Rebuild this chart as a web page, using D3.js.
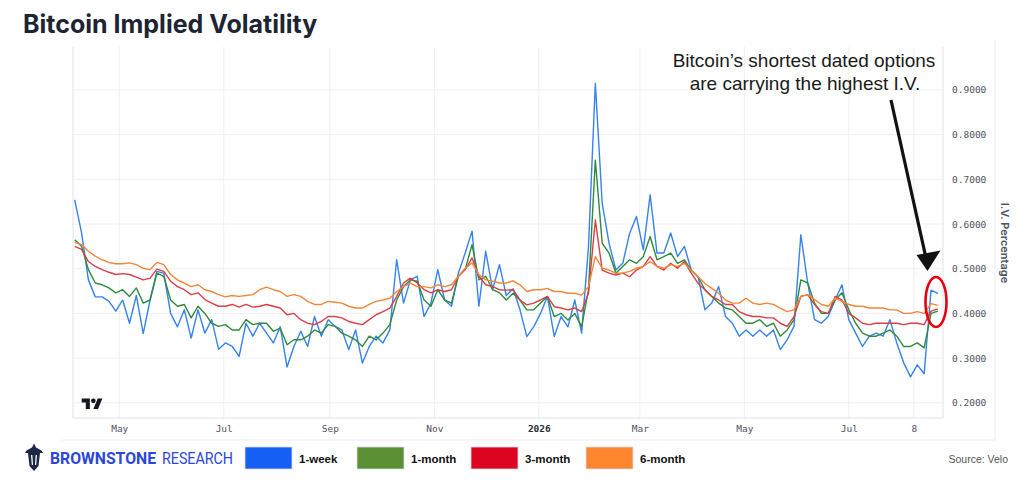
<!DOCTYPE html>
<html>
<head>
<meta charset="utf-8">
<script src="https://cdn.jsdelivr.net/npm/d3@7"></script>
<style>
  body { margin: 0; background: #fff; }
  .grid line { stroke: #edf0f5; stroke-width: 1; }
  .border { stroke: #e0e3eb; stroke-width: 1; }
  .axis text { font-family: "DejaVu Sans Mono", monospace; font-size: 9.5px; fill: #50535e; }
  .axis path { display: none; }
  .series { fill: none; stroke-width: 1.4; stroke-linejoin: round; }
</style>
</head>
<body>
<script>
// ---- data (one value every 4 days from 5 Apr 2025) ----
var seriesNames = ["1-week", "1-month", "3-month", "6-month"];

var week1 = [
  0.654, 0.580, 0.475, 0.437, 0.437, 0.427, 0.405, 0.430, 0.378, 0.440,
  0.355, 0.430, 0.494, 0.490, 0.400, 0.370, 0.408, 0.345, 0.408, 0.356,
  0.386, 0.320, 0.334, 0.326, 0.304, 0.378, 0.349, 0.378, 0.356, 0.334,
  0.370, 0.280, 0.326, 0.360, 0.326, 0.393, 0.349, 0.386, 0.371, 0.363,
  0.319, 0.363, 0.289, 0.326, 0.349, 0.334, 0.363, 0.520, 0.423, 0.475,
  0.483, 0.393, 0.423, 0.498, 0.430, 0.416, 0.490, 0.535, 0.584, 0.416,
  0.539, 0.453, 0.509, 0.440, 0.455, 0.408, 0.348, 0.370, 0.400, 0.438,
  0.348, 0.393, 0.370, 0.430, 0.356, 0.550, 0.915, 0.646, 0.557, 0.497,
  0.512, 0.579, 0.617, 0.542, 0.665, 0.535, 0.535, 0.580, 0.527, 0.550,
  0.497, 0.482, 0.408, 0.423, 0.460, 0.393, 0.378, 0.349, 0.363, 0.349,
  0.363, 0.349, 0.363, 0.319, 0.341, 0.371, 0.576, 0.468, 0.386, 0.378,
  0.393, 0.430, 0.464, 0.386, 0.356, 0.326, 0.349, 0.356, 0.349, 0.386,
  0.334, 0.290, 0.258, 0.285, 0.265, 0.452, 0.445
];

var month1 = [
  0.565, 0.550, 0.498, 0.468, 0.464, 0.457, 0.446, 0.453, 0.438, 0.457,
  0.423, 0.430, 0.490, 0.483, 0.430, 0.416, 0.420, 0.390, 0.416, 0.400,
  0.378, 0.371, 0.375, 0.363, 0.363, 0.386, 0.375, 0.378, 0.378, 0.360,
  0.367, 0.330, 0.341, 0.341, 0.349, 0.363, 0.356, 0.375, 0.371, 0.356,
  0.349, 0.341, 0.326, 0.349, 0.341, 0.356, 0.375, 0.430, 0.460, 0.475,
  0.472, 0.430, 0.416, 0.453, 0.430, 0.423, 0.483, 0.498, 0.554, 0.475,
  0.483, 0.453, 0.446, 0.430, 0.445, 0.430, 0.408, 0.408, 0.423, 0.438,
  0.393, 0.400, 0.385, 0.400, 0.370, 0.453, 0.743, 0.557, 0.535, 0.490,
  0.505, 0.520, 0.512, 0.527, 0.572, 0.520, 0.527, 0.535, 0.512, 0.520,
  0.497, 0.482, 0.453, 0.438, 0.423, 0.412, 0.408, 0.393, 0.378, 0.378,
  0.386, 0.371, 0.378, 0.349, 0.363, 0.386, 0.475, 0.468, 0.423, 0.400,
  0.400, 0.430, 0.446, 0.408, 0.378, 0.356, 0.349, 0.349, 0.356, 0.363,
  0.349, 0.326, 0.326, 0.334, 0.323, 0.400, 0.405
];

var month3 = [
  0.550, 0.543, 0.516, 0.505, 0.498, 0.492, 0.487, 0.489, 0.487, 0.481,
  0.475, 0.479, 0.499, 0.494, 0.472, 0.460, 0.453, 0.442, 0.446, 0.431,
  0.423, 0.416, 0.416, 0.420, 0.414, 0.420, 0.414, 0.416, 0.420, 0.416,
  0.412, 0.397, 0.400, 0.386, 0.378, 0.375, 0.382, 0.393, 0.393, 0.390,
  0.382, 0.378, 0.375, 0.386, 0.397, 0.404, 0.412, 0.438, 0.468, 0.479,
  0.468, 0.453, 0.446, 0.453, 0.449, 0.453, 0.483, 0.498, 0.524, 0.483,
  0.464, 0.460, 0.453, 0.452, 0.453, 0.430, 0.419, 0.423, 0.430, 0.438,
  0.415, 0.412, 0.408, 0.412, 0.404, 0.445, 0.609, 0.497, 0.490, 0.486,
  0.490, 0.482, 0.497, 0.505, 0.527, 0.505, 0.497, 0.512, 0.501, 0.516,
  0.490, 0.467, 0.453, 0.438, 0.430, 0.420, 0.420, 0.404, 0.397, 0.393,
  0.393, 0.390, 0.390, 0.378, 0.371, 0.393, 0.438, 0.442, 0.420, 0.404,
  0.400, 0.438, 0.430, 0.400, 0.390, 0.378, 0.375, 0.378, 0.378, 0.378,
  0.378, 0.375, 0.378, 0.378, 0.375, 0.405, 0.410
];

var month6 = [
  0.559, 0.554, 0.539, 0.528, 0.520, 0.514, 0.511, 0.511, 0.513, 0.509,
  0.501, 0.498, 0.514, 0.509, 0.487, 0.475, 0.468, 0.460, 0.464, 0.453,
  0.449, 0.442, 0.437, 0.440, 0.438, 0.440, 0.442, 0.453, 0.459, 0.453,
  0.449, 0.438, 0.442, 0.438, 0.427, 0.420, 0.420, 0.427, 0.425, 0.423,
  0.416, 0.412, 0.412, 0.420, 0.427, 0.430, 0.434, 0.449, 0.460, 0.468,
  0.460, 0.460, 0.457, 0.464, 0.460, 0.464, 0.483, 0.501, 0.513, 0.487,
  0.475, 0.472, 0.468, 0.468, 0.473, 0.464, 0.449, 0.453, 0.453, 0.456,
  0.449, 0.449, 0.445, 0.445, 0.441, 0.460, 0.527, 0.501, 0.497, 0.490,
  0.490, 0.494, 0.501, 0.505, 0.516, 0.505, 0.501, 0.509, 0.505, 0.512,
  0.497, 0.482, 0.467, 0.456, 0.445, 0.430, 0.423, 0.423, 0.434, 0.423,
  0.420, 0.423, 0.420, 0.412, 0.404, 0.408, 0.438, 0.442, 0.431, 0.420,
  0.416, 0.434, 0.427, 0.420, 0.416, 0.416, 0.412, 0.412, 0.412, 0.408,
  0.408, 0.400, 0.400, 0.404, 0.400, 0.422, 0.418
];

// x categories: every 4th day
var dates = d3.utcDay.range(new Date(Date.UTC(2025, 3, 5)), new Date(Date.UTC(2026, 7, 24)), 4);

// axis ticks
var tickDates = [
  new Date(Date.UTC(2025, 4, 1)), new Date(Date.UTC(2025, 6, 1)), new Date(Date.UTC(2025, 8, 1)),
  new Date(Date.UTC(2025, 10, 1)), new Date(Date.UTC(2026, 0, 1)), new Date(Date.UTC(2026, 2, 1)),
  new Date(Date.UTC(2026, 4, 1)), new Date(Date.UTC(2026, 6, 1)), new Date(Date.UTC(2026, 7, 8))
];
var tickLabels = ["May", "Jul", "Sep", "Nov", "2026", "Mar", "May", "Jul", "8"];
var yTicks = [0.2, 0.3, 0.4, 0.5, 0.6, 0.7, 0.8, 0.9];

// ---- layout ----
var width = 1024, height = 490;
var plot = {left: 73, right: 943, top: 47, bottom: 418};
var lineColors = ["#3583ee", "#2f8a3c", "#d83f48", "#f2873a"];
var swatchColors = ["#165ff5", "#5b9134", "#dd0422", "#ff862f"];

var svg = d3.select("body").append("svg")
    .attr("width", width)
    .attr("height", height);

var xScale = d3.scaleUtc()
    .domain([new Date(Date.UTC(2025, 3, 4)), new Date(Date.UTC(2026, 7, 25))])
    .range([plot.left, plot.right]);
var yScale = d3.scaleLinear()
    .domain([0.166, 0.996])
    .range([plot.bottom, plot.top]);

// outer frame
svg.append("line").attr("x1", 995).attr("x2", 995).attr("y1", 40).attr("y2", 440)
    .attr("stroke", "#eceef2");
svg.append("line").attr("x1", 62).attr("x2", 995).attr("y1", 440).attr("y2", 440)
    .attr("stroke", "#eceef2");

// grid
var grid = svg.append("g").attr("class", "grid");
grid.selectAll(".vgrid")
    .data(tickDates)
    .enter()
    .append("line")
    .attr("x1", function(d) { return xScale(d); })
    .attr("x2", function(d) { return xScale(d); })
    .attr("y1", plot.top)
    .attr("y2", plot.bottom);
grid.selectAll(".hgrid")
    .data(yTicks)
    .enter()
    .append("line")
    .attr("x1", plot.left)
    .attr("x2", plot.right)
    .attr("y1", function(d) { return yScale(d); })
    .attr("y2", function(d) { return yScale(d); });

// plot borders
svg.append("line").attr("class", "border")
    .attr("x1", plot.left).attr("x2", plot.left).attr("y1", plot.top).attr("y2", plot.bottom);
svg.append("line").attr("class", "border")
    .attr("x1", plot.right).attr("x2", plot.right).attr("y1", plot.top).attr("y2", plot.bottom);
svg.append("line").attr("class", "border")
    .attr("x1", plot.left).attr("x2", plot.right).attr("y1", plot.bottom).attr("y2", plot.bottom);

// y-axis on the right
svg.append("g")
    .attr("class", "y axis")
    .attr("transform", "translate(" + plot.right + ",0)")
    .call(d3.axisRight(yScale).tickValues(yTicks).tickFormat(d3.format(".4f")).tickSize(0).tickPadding(9));

svg.append("text")
    .attr("transform", "translate(1005,243) rotate(90)")
    .attr("text-anchor", "middle")
    .attr("dominant-baseline", "central")
    .style("font-family", "Inter, 'Noto Sans', sans-serif")
    .style("font-size", "11px")
    .style("font-weight", 600)
    .style("fill", "#4a5263")
    .text("I.V. Percentage");

// x-axis
var xAxisG = svg.append("g")
    .attr("class", "x axis")
    .attr("transform", "translate(0," + plot.bottom + ")")
    .call(d3.axisBottom(xScale).tickValues(tickDates)
      .tickFormat(function(d, i) { return tickLabels[i]; })
      .tickSize(0).tickPadding(7));
xAxisG.selectAll("text")
    .filter(function(d, i) { return tickLabels[i] === "2026"; })
    .style("font-weight", "bold")
    .style("fill", "#2a2e39");

// series lines
var allSeries = [week1, month1, month3, month6];
var line = d3.line()
    .x(function(d, i) { return xScale(dates[i]); })
    .y(function(d) { return yScale(d); });

svg.selectAll(".series")
    .data(allSeries)
    .enter()
    .append("path")
    .attr("class", "series")
    .attr("stroke", function(d, i) { return lineColors[i]; })
    .attr("d", line);

// TradingView mark
var tv = svg.append("g")
    .attr("transform", "translate(81.7,396.2) scale(0.583)")
    .attr("fill", "#131722");
tv.append("path").attr("d", "M14 22H7V11H0V4h14v18zM28 22h-8l7.5-18h8L28 22z");
tv.append("circle").attr("cx", 20).attr("cy", 8).attr("r", 4);

// title
svg.append("text")
    .attr("x", 23)
    .attr("y", 33)
    .style("font-family", "Inter, 'Noto Sans', sans-serif")
    .style("font-size", "25px")
    .style("font-weight", 700)
    .style("fill", "#1d2433")
    .text("Bitcoin Implied Volatility");

// annotation
var note = svg.append("text")
    .attr("text-anchor", "middle")
    .style("font-family", "'Liberation Sans', Arial, sans-serif")
    .style("font-size", "19px")
    .style("fill", "#1a1a1a");
note.append("tspan").attr("x", 804).attr("y", 67).text("Bitcoin\u2019s shortest dated options");
note.append("tspan").attr("x", 805).attr("y", 89.5).text("are carrying the highest I.V.");

svg.append("line")
    .attr("x1", 891).attr("y1", 100)
    .attr("x2", 926).attr("y2", 258)
    .attr("stroke", "#111")
    .attr("stroke-width", 3.2);
svg.append("path")
    .attr("d", "M916.5,255 L940.5,250.5 L927.5,271 Z")
    .attr("fill", "#111");

svg.append("ellipse")
    .attr("cx", 936).attr("cy", 302)
    .attr("rx", 10.5).attr("ry", 25)
    .attr("fill", "none")
    .attr("stroke", "#e60012")
    .attr("stroke-width", 2.6);

// footer: brand, legend, source
var logo = svg.append("g").attr("fill", "#1c2646");
logo.append("path")
    .attr("d", "M34,443.5 L36,447.5 L41.5,450.5 L43,453 L40,453 L38.5,466 L34,471 L29.5,466 L28,453 L25,453 L26.5,450.5 L32,447.5 Z");
logo.append("path")
    .attr("d", "M31,455 L32.4,455 L33,465 L31.8,465 Z M35.6,455 L37,455 L36.2,465 L35,465 Z")
    .attr("fill", "#fff");

svg.append("text")
    .attr("x", 50).attr("y", 464)
    .attr("textLength", 106).attr("lengthAdjust", "spacingAndGlyphs")
    .style("font-family", "Roboto, sans-serif")
    .style("font-size", "16.5px")
    .style("font-weight", 700)
    .style("fill", "#2b46db")
    .text("BROWNSTONE");
svg.append("text")
    .attr("x", 162).attr("y", 464)
    .attr("textLength", 71).attr("lengthAdjust", "spacingAndGlyphs")
    .style("font-family", "Roboto, sans-serif")
    .style("font-size", "16.5px")
    .style("fill", "#2b46db")
    .text("RESEARCH");

var legendX = [245, 357, 471, 586];
var legend = svg.selectAll(".legend")
    .data(seriesNames)
    .enter()
    .append("g")
    .attr("class", "legend")
    .attr("transform", function(d, i) { return "translate(" + legendX[i] + ",447)"; });
legend.append("rect")
    .attr("width", 47)
    .attr("height", 22)
    .attr("fill", function(d, i) { return swatchColors[i]; })
    .attr("stroke", "#d9dde6")
    .attr("stroke-width", 0.8);
legend.append("text")
    .attr("x", 54)
    .attr("y", 15.5)
    .style("font-family", "'Liberation Sans', Arial, sans-serif")
    .style("font-size", "11.5px")
    .style("font-weight", 700)
    .style("fill", "#111")
    .text(function(d) { return d; });

svg.append("text")
    .attr("x", 1008).attr("y", 463)
    .attr("text-anchor", "end")
    .style("font-family", "'Liberation Sans', Arial, sans-serif")
    .style("font-size", "10.5px")
    .style("fill", "#555")
    .text("Source: Velo");
</script>
</body>
</html>
